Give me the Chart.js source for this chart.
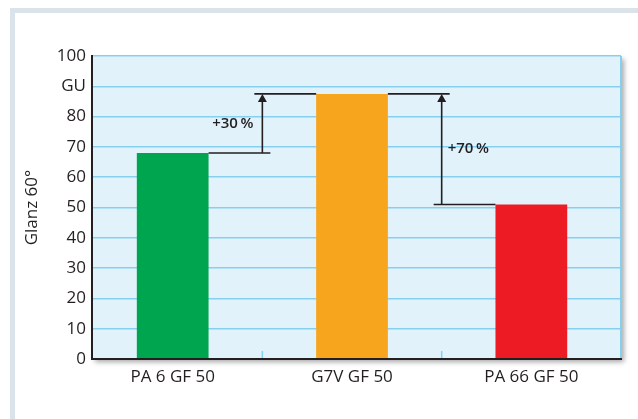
<!DOCTYPE html>
<html>
<head>
<meta charset="utf-8">
<script src="https://cdn.jsdelivr.net/npm/chart.js@4/dist/chart.umd.min.js"></script>
<style>
  html, body { margin: 0; padding: 0; background: #ffffff; }
  #wrap { width: 638px; height: 419px; position: relative; }
</style>
</head>
<body>
<div id="wrap"><canvas id="c" width="638" height="419"></canvas></div>
<script>
// Gloss values (GU, 60°) per material
const categories = ['PA 6 GF 50', 'G7V GF 50', 'PA 66 GF 50'];
const gloss = [68, 87.5, 51];
const barColors = ['#00a54f', '#f7a51d', '#ed1c24'];
const yTickLabels = ['0', '10', '20', '30', '40', '50', '60', '70', '80', 'GU', '100'];
// Gain arrows: from material index -> to material index, with label
const gainFrom = [0, 2];
const gainTo = [1, 1];
const gainLabels = ['+30\u2009%', '+70\u2009%'];

const TEXT = '#231f20';
const FONT = "'Open Sans', 'DejaVu Sans', sans-serif";

const decor = {
  id: 'decor',
  beforeDraw(chart) {
    const ctx = chart.ctx;
    const a = chart.chartArea;
    ctx.save();
    // card frame
    ctx.fillStyle = '#dbe3ea';
    ctx.fillRect(10, 8, 628, 5);
    ctx.fillRect(10, 8, 5, 411);
    // plot background with soft shadow
    ctx.shadowColor = 'rgba(0,0,0,0.35)';
    ctx.shadowBlur = 5;
    ctx.shadowOffsetX = 3;
    ctx.shadowOffsetY = 3;
    ctx.fillStyle = '#e1f2fa';
    ctx.fillRect(a.left, a.top, a.right - a.left, a.bottom - a.top);
    ctx.restore();
  },
  afterDatasetsDraw(chart) {
    const ctx = chart.ctx;
    const a = chart.chartArea;
    const xs = chart.scales.x;
    const ys = chart.scales.y;
    const bars = chart.getDatasetMeta(0).data;
    ctx.save();
    // right border
    ctx.strokeStyle = '#86d0ef';
    ctx.lineWidth = 2;
    ctx.beginPath();
    ctx.moveTo(a.right, a.top);
    ctx.lineTo(a.right, a.bottom);
    ctx.stroke();
    // category separators (short marks on the baseline)
    ctx.lineWidth = 1.5;
    for (let i = 0; i < categories.length - 1; i++) {
      const x = xs.getPixelForValue(i + 0.5);
      ctx.beginPath();
      ctx.moveTo(x, a.bottom);
      ctx.lineTo(x, a.bottom - 8);
      ctx.stroke();
    }
    // axes
    ctx.strokeStyle = TEXT;
    ctx.lineWidth = 2;
    ctx.beginPath();
    ctx.moveTo(a.left, a.top - 1);
    ctx.lineTo(a.left, a.bottom);
    ctx.lineTo(a.right + 1, a.bottom);
    ctx.stroke();

    // gain arrows
    ctx.lineWidth = 1.6;
    ctx.fillStyle = TEXT;
    ctx.font = '600 15px ' + FONT;
    ctx.textBaseline = 'middle';
    for (let k = 0; k < gainFrom.length; k++) {
      const f = gainFrom[k], t = gainTo[k];
      const dir = f < t ? 1 : -1;
      const xa = xs.getPixelForValue((f + t) / 2);
      const y0 = ys.getPixelForValue(gloss[f]);
      const y1 = ys.getPixelForValue(gloss[t]);
      const fb = bars[f];
      const edge = fb.x + dir * fb.width / 2;
      // base line from source bar
      ctx.beginPath();
      ctx.moveTo(edge, y0);
      ctx.lineTo(xa + dir * 8, y0);
      ctx.stroke();
      // top line across target
      ctx.beginPath();
      ctx.moveTo(xa - dir * 8, y1);
      ctx.lineTo(xa + dir * 8, y1);
      const tb = bars[t];
      ctx.lineTo(tb.x - dir * tb.width / 2, y1);
      ctx.stroke();
      // shaft
      ctx.beginPath();
      ctx.moveTo(xa, y0);
      ctx.lineTo(xa, y1 + 6);
      ctx.stroke();
      // head
      ctx.beginPath();
      ctx.moveTo(xa, y1);
      ctx.lineTo(xa - 4.5, y1 + 8);
      ctx.lineTo(xa + 4.5, y1 + 8);
      ctx.closePath();
      ctx.fill();
      // label
      const ym = ys.getPixelForValue((gloss[f] + gloss[t]) / 2);
      if (dir > 0) {
        ctx.textAlign = 'right';
        ctx.fillText(gainLabels[k], xa - 9, ym);
      } else {
        ctx.textAlign = 'left';
        ctx.fillText(gainLabels[k], xa + 6, ym);
      }
    }
    ctx.restore();
  }
};

new Chart(document.getElementById('c'), {
  type: 'bar',
  data: {
    datasets: [{
      data: categories.map((c, i) => ({ x: i, y: gloss[i] })),
      backgroundColor: barColors,
      borderWidth: 0,
      barPercentage: 0.5,
      categoryPercentage: 0.8
    }]
  },
  options: {
    responsive: false,
    animation: false,
    devicePixelRatio: 1,
    layout: { padding: { top: 56, right: 17, left: 0, bottom: 0 } },
    plugins: { legend: { display: false }, tooltip: { enabled: false } },
    scales: {
      x: {
        type: 'linear',
        min: -0.45,
        max: 2.5,
        offset: false,
        grid: { display: false, drawTicks: false, offset: false },
        border: { display: false },
        afterFit(scale) { scale.height = 60; },
        afterBuildTicks(scale) { scale.ticks = categories.map((c, i) => ({ value: i })); },
        ticks: {
          padding: 8,
          color: TEXT,
          font: { family: FONT, size: 17 },
          maxRotation: 0,
          autoSkip: false,
          callback: (v) => categories[v]
        }
      },
      y: {
        min: 0,
        max: 100,
        afterFit(scale) { scale.width = 92; },
        afterBuildTicks(scale) { scale.ticks = yTickLabels.map((l, i) => ({ value: i * 10 })); },
        grid: { color: '#86d0ef', lineWidth: 1.5, drawTicks: false },
        border: { display: false },
        ticks: {
          padding: 6,
          color: TEXT,
          font: { family: FONT, size: 17 },
          callback: (v) => yTickLabels[Math.round(v / 10)]
        },
        title: {
          display: true,
          text: 'Glanz 60°',
          color: TEXT,
          font: { family: FONT, size: 17 },
          padding: { top: 22, bottom: 0 }
        }
      }
    }
  },
  plugins: [decor]
});
</script>
</body>
</html>
